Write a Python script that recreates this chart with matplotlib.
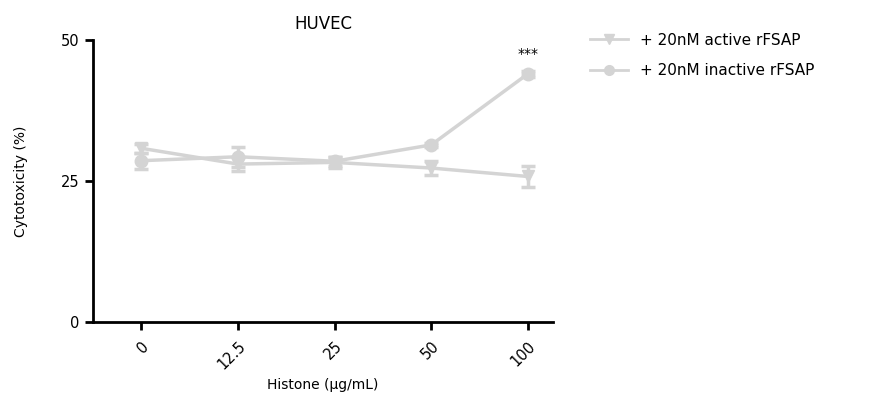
import numpy as np
import matplotlib.pyplot as plt
from matplotlib.lines import Line2D

# categories on x
doses = ["0", "12.5", "25", "50", "100"]

# cytotoxicity (%) mean and error
active = [30.8, 28.0, 28.3, 27.3, 25.8]
active_err = [0.8, 1.2, 1.0, 1.3, 1.9]
inactive = [28.6, 29.3, 28.5, 31.4, 44.0]
inactive_err = [1.4, 1.8, 0.8, 0.3, 0.5]

grey = "#d4d4d4"

fig = plt.figure(figsize=(8.79, 4.17), dpi=100)
ax = fig.add_axes([93/879, 95/417, 460/879, 282/417])

x = np.arange(len(doses))
ax.errorbar(x, active, yerr=active_err, color=grey, marker="v", markersize=9,
            lw=2.5, capsize=5, capthick=2.5, elinewidth=2.5)
ax.errorbar(x, inactive, yerr=inactive_err, color=grey, marker="o", markersize=9,
            lw=2.5, capsize=5, capthick=2.5, elinewidth=2.5)

ax.text(4, 46.3, "***", ha="center", va="bottom", fontsize=10)

ax.set_xlim(-0.5, 4.26)
ax.set_ylim(0, 50)
ax.set_yticks([0, 25, 50])
ax.set_xticks(x)
ax.set_xticklabels(doses, rotation=45, ha="right", rotation_mode="anchor")
ax.tick_params(width=2, length=6, labelsize=10.5)
ax.tick_params(axis="x", pad=6)
for s in ["top", "right"]:
    ax.spines[s].set_visible(False)
for s in ["left", "bottom"]:
    ax.spines[s].set_linewidth(2)

ax.set_title("HUVEC", fontsize=12, pad=8)
ax.set_ylabel("Cytotoxicity (%)", fontsize=10, labelpad=24)
ax.set_xlabel("Histone (\u00b5g/mL)", fontsize=10, labelpad=4)

handles = [
    Line2D([], [], color=grey, marker="v", markersize=7, lw=2),
    Line2D([], [], color=grey, marker="o", markersize=7, lw=2),
]
ax.legend(handles, ["+ 20nM active rFSAP", "+ 20nM inactive rFSAP"],
          loc="upper left", bbox_to_anchor=(1.05, 1.075), frameon=False,
          fontsize=11, handlelength=2.5, labelspacing=1.0)

fig.savefig("out.png", dpi=100)
